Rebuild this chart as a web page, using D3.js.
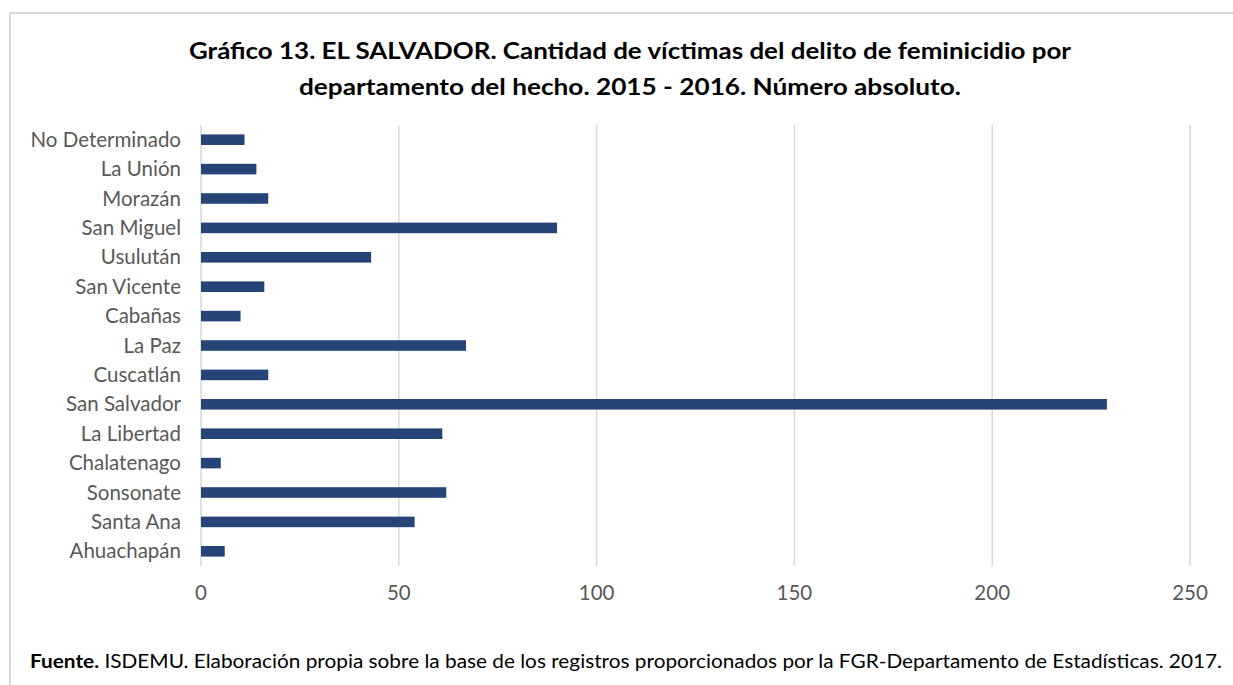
<html>
<head>
	<meta charset="utf-8">
	<title>feminicidio por departamento</title>
	<script src="https://cdn.jsdelivr.net/npm/d3@7"></script>
	<style>
		body {
			margin: 0;
			background: #fff;
		}
		.grid line {
			stroke: #d9d9d9;
			stroke-width: 1.5px;
		}
		.tick-label {
			font-family: Lato, "Open Sans", sans-serif;
			font-size: 20.5px;
			fill: #595959;
		}
		.title {
			font-family: Lato, "Open Sans", sans-serif;
			font-size: 23.5px;
			font-weight: 700;
			fill: #000;
		}
		.footer {
			font-family: Lato, "Open Sans", sans-serif;
			font-size: 19.5px;
			fill: #000;
		}
	</style>
</head>
<body>
	<svg id="chart"></svg>
</body>
<script>

// Departments, top to bottom as in the chart
var departments = [
	"No Determinado", "La Unión", "Morazán", "San Miguel", "Usulután",
	"San Vicente", "Cabañas", "La Paz", "Cuscatlán", "San Salvador",
	"La Libertad", "Chalatenago", "Sonsonate", "Santa Ana", "Ahuachapán"
];

// Victims 2015 - 2016
var victims = [11, 14, 17, 90, 43, 16, 10, 67, 17, 229, 61, 5, 62, 54, 6];

var xTicks = [0, 50, 100, 150, 200, 250];

var titleLines = [
	"Gráfico 13. EL SALVADOR. Cantidad de víctimas del delito de feminicidio por",
	"departamento del hecho. 2015 - 2016. Número absoluto."
];

var sourceBold = "Fuente.";
var sourceText = " ISDEMU. Elaboración propia sobre la base de los registros proporcionados por la FGR-Departamento de Estadísticas. 2017.";

//
// Draw svg
//

var W = 1233, H = 685;
var svg = d3.select("#chart")
	.attr("width", W)
	.attr("height", H);

// Chart frame (runs off the right and bottom of the picture)
svg.append("rect")
	.attr("x", 10)
	.attr("y", 13)
	.attr("width", W)
	.attr("height", H)
	.attr("fill", "none")
	.attr("stroke", "#d9d9d9")
	.attr("stroke-width", 2);

var plot = { left: 201, right: 1190, top: 125, bottom: 566 };

var x = d3.scaleLinear()
	.domain([0, 250])
	.range([plot.left, plot.right]);

var y = d3.scaleBand()
	.domain(departments)
	.range([plot.top, plot.bottom])
	.paddingInner(0.64)
	.paddingOuter(0.32);

// Grid
var gridG = svg.append("g").attr("class", "grid");
gridG.selectAll("line")
	.data(xTicks)
	.enter().append("line")
		.attr("x1", function(d) { return x(d); })
		.attr("x2", function(d) { return x(d); })
		.attr("y1", plot.top)
		.attr("y2", plot.bottom);

// Bars
svg.append("g").selectAll("rect")
	.data(departments)
	.enter().append("rect")
		.attr("x", x(0))
		.attr("y", function(d) { return y(d); })
		.attr("width", function(d, i) { return x(victims[i]) - x(0); })
		.attr("height", y.bandwidth())
		.attr("fill", "#264478");

// Category labels
svg.append("g").selectAll("text")
	.data(departments)
	.enter().append("text")
		.attr("class", "tick-label")
		.attr("x", 181)
		.attr("y", function(d) { return y(d) + y.bandwidth() / 2; })
		.attr("dy", "0.35em")
		.attr("text-anchor", "end")
		.text(function(d) { return d; });

// Value labels on x
svg.append("g").selectAll("text")
	.data(xTicks)
	.enter().append("text")
		.attr("class", "tick-label")
		.attr("x", function(d) { return x(d); })
		.attr("y", 593)
		.attr("dy", "0.35em")
		.attr("text-anchor", "middle")
		.text(function(d) { return d; });

// Title, stretched to the width the original font takes
var titleWidths = [882, 662];
svg.append("g").selectAll("text")
	.data(titleLines)
	.enter().append("text")
		.attr("class", "title")
		.attr("x", 630)
		.attr("y", function(d, i) { return 51 + i * 36; })
		.attr("dy", "0.35em")
		.attr("text-anchor", "middle")
		.attr("textLength", function(d, i) { return titleWidths[i]; })
		.attr("lengthAdjust", "spacingAndGlyphs")
		.text(function(d) { return d; });

// Source note
var foot = svg.append("text")
	.attr("class", "footer")
	.attr("x", 30)
	.attr("y", 661)
	.attr("dy", "0.35em")
	.attr("textLength", 1192)
	.attr("lengthAdjust", "spacingAndGlyphs");
foot.append("tspan")
	.attr("font-weight", 700)
	.text(sourceBold);
foot.append("tspan")
	.text(sourceText);

</script>
</html>
